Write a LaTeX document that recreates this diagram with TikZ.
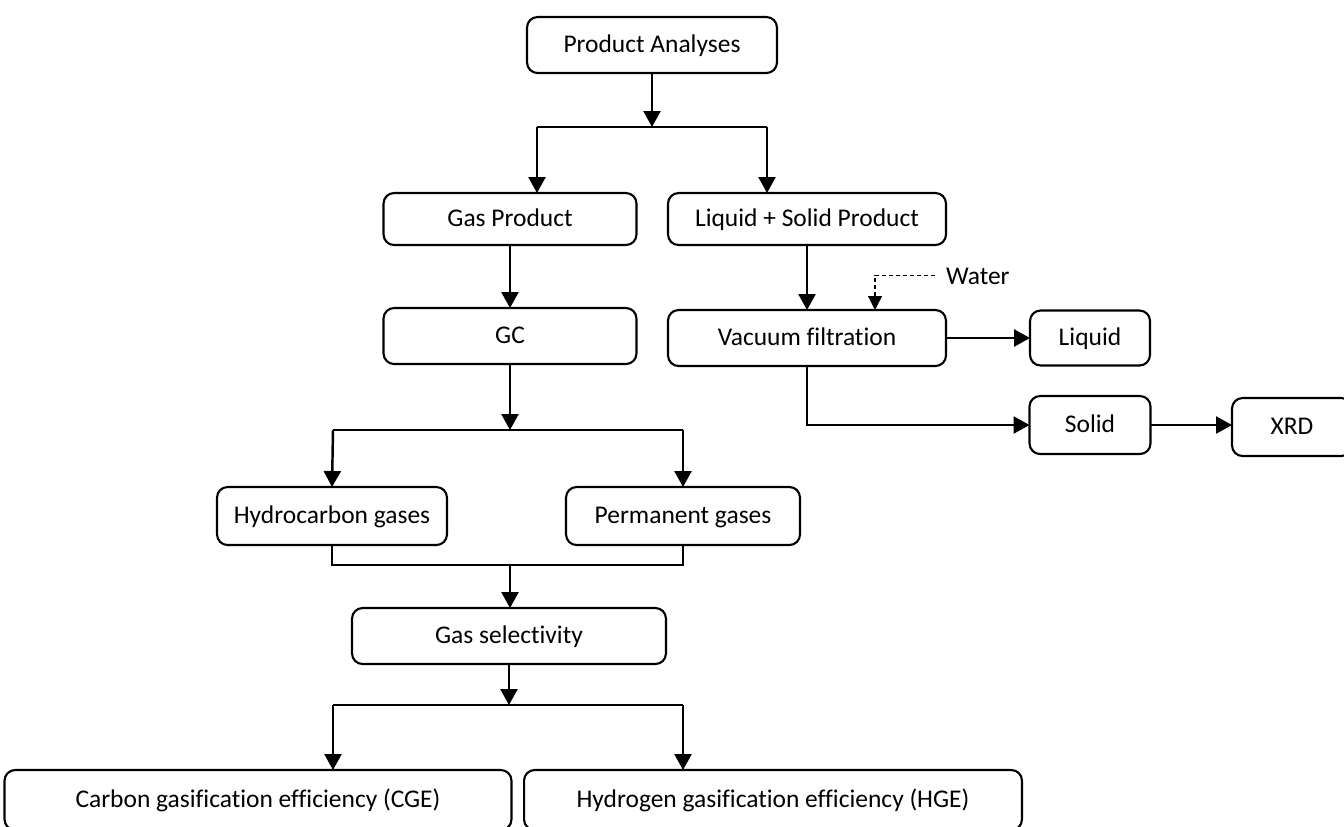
\documentclass[tikz,border=0pt]{standalone}
\usepackage{fontspec}
\setmainfont{Carlito}[Ligatures=NoCommon]
\usepackage{tikz}
\usetikzlibrary{shapes.geometric, arrows.meta}

\begin{document}
\begin{tikzpicture}[x=0.02cm, y=-0.02cm,
				arrow/.style={line width=1.4pt, -{Triangle[length=0.32cm, width=0.34cm]}},
				link/.style={line width=0.6pt}]
					\tikzstyle{every node}=[rectangle, rounded corners=6pt, line width=1.2pt, outer sep=0pt, text centered, text height=2ex, text depth=0.3ex, draw=black, font=\fontsize{14.5}{17}\selectfont]
					\useasboundingbox[fill=white] (0,0) rectangle (1344,826);
					% boxes
					\node[minimum width=5cm, minimum height=1.12cm] (analyses) at (652,45) {Product Analyses};
					\node[minimum width=5.06cm, minimum height=1.04cm] (gasprod) at (510,219) {Gas Product};
					\node[minimum width=5.56cm, minimum height=1.04cm] (lsprod) at (807,219) {Liquid + Solid Product};
					\node[minimum width=5.06cm, minimum height=1.12cm] (gc) at (510,336) {GC};
					\node[minimum width=5.56cm, minimum height=1.12cm] (vacuum) at (807,338) {Vacuum filtration};
					\node[minimum width=2.4cm, minimum height=1.1cm] (liquid) at (1090,338) {Liquid};
					\node[minimum width=2.42cm, minimum height=1.16cm] (solid) at (1090,425) {Solid};
					\node[minimum width=2.4cm, minimum height=1.16cm] (xrd) at (1292,427) {XRD};
					\node[minimum width=4.6cm, minimum height=1.16cm] (hydro) at (332,516) {Hydrocarbon gases};
					\node[minimum width=4.68cm, minimum height=1.16cm] (perm) at (683,516) {Permanent gases};
					\node[minimum width=6.28cm, minimum height=1.12cm] (select) at (509,636) {Gas selectivity};
					\node[minimum width=10.14cm, minimum height=1.2cm] (cge) at (258,800) {Carbon gasification efficiency (CGE)};
					\node[minimum width=9.96cm, minimum height=1.2cm] (hge) at (773,800) {Hydrogen gasification efficiency (HGE)};
					\node[draw=none, anchor=west, inner sep=0pt] (water) at (946,277) {Water};
					% branch points
					\coordinate (b1l) at (537,127);
					\coordinate (b1r) at (767,127);
					\coordinate (b2l) at (333,430);
					\coordinate (b2r) at (683,430);
					\coordinate (b3) at (510,565);
					\coordinate (b4l) at (333,705);
					\coordinate (b4r) at (683,705);
					\coordinate (wdrop) at (875,310);
					% connectors
					\draw[arrow] (analyses.south) -- (analyses.south |- b1l);
					\draw[link] (b1l) -- (b1r);
					\draw[arrow] (b1l) -- (b1l |- gasprod.north);
					\draw[arrow] (b1r) -- (b1r |- lsprod.north);
					\draw[arrow] (gasprod) -- (gc);
					\draw[arrow] (lsprod) -- (vacuum);
					\draw[line width=0.7pt, dash pattern=on 2.5pt off 1.5pt, -{Triangle[length=0.28cm, width=0.28cm]}] ([xshift=-6pt,yshift=1pt]water.west) -| (wdrop);
					\draw[arrow] (vacuum) -- (liquid);
					\draw[arrow] (vacuum.south) |- (solid.west);
					\draw[arrow] (solid.east) -- (solid.east -| xrd.west);
					\draw[arrow] (gc.south) -- (gc.south |- b2l);
					\draw[link] (b2l) -- (b2r);
					\draw[arrow] (b2l) -- (hydro.north);
					\draw[arrow] (b2r) -- (perm.north);
					\draw[link] (hydro.south) |- (b3) -| (perm.south);
					\draw[arrow] (b3) -- (b3 |- select.north);
					\draw[arrow] (select.south) -- (select.south |- b4l);
					\draw[link] (b4l) -- (b4r);
					\draw[arrow] (b4l) -- (b4l |- cge.north);
					\draw[arrow] (b4r) -- (b4r |- hge.north);
				\end{tikzpicture}
\end{document}
